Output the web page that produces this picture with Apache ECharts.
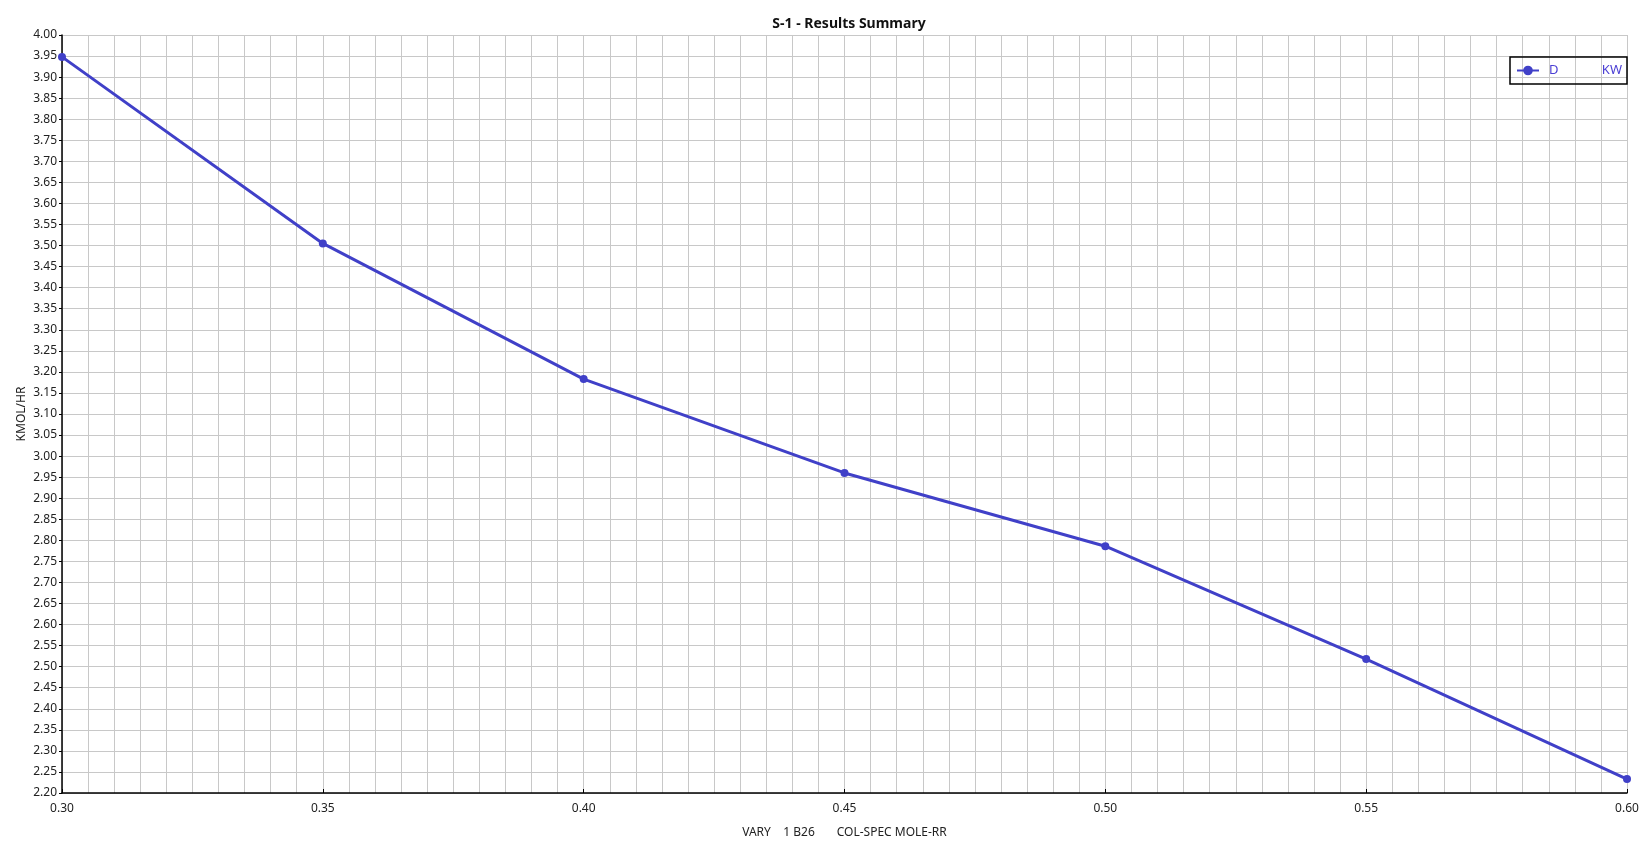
<!DOCTYPE html>
<html>
<head>
<meta charset="utf-8">
<title>S-1 - Results Summary</title>
<script src="https://cdn.jsdelivr.net/npm/echarts@6/dist/echarts.min.js"></script>
<style>
  html, body { margin: 0; padding: 0; background: #fff; }
  #chart { width: 1649px; height: 852px; }
</style>
</head>
<body>
<div id="chart"></div>
<script>
// data
const rrValues = [0.30, 0.35, 0.40, 0.45, 0.50, 0.55, 0.60];
const dValues = [3.948, 3.505, 3.183, 2.960, 2.786, 2.518, 2.233];
const seriesName = 'D';
const seriesUnit = 'KW';

const lineColor = '#4040c8';
const fontFamily = '"Noto Sans", "Open Sans", sans-serif';

const chart = echarts.init(document.getElementById('chart'));
const option = {
  animation: false,
  backgroundColor: '#fff',
  textStyle: { fontFamily: fontFamily },
  title: {
    text: 'S-1 - Results Summary',
    left: 844,
    textAlign: 'center',
    top: 12,
    textStyle: { fontSize: 14, fontWeight: 'bold', color: '#111', fontFamily: fontFamily }
  },
  legend: {
    right: 22,
    top: 57,
    orient: 'vertical',
    borderColor: '#000',
    borderWidth: 1.5,
    padding: [7, 5, 7, 6],
    itemWidth: 22,
    itemHeight: 12,
    data: [seriesName],
    formatter: function (name) {
      return '{a|' + name + '}{b|' + seriesUnit + '}';
    },
    textStyle: {
      color: '#4b3fd4',
      fontSize: 13,
      rich: {
        a: { width: 52, padding: [0, 0, 0, 5], color: '#4b3fd4', fontSize: 13 },
        b: { width: 21, align: 'right', color: '#4b3fd4', fontSize: 13 }
      }
    }
  },
  grid: { left: 62, right: 22, top: 35, bottom: 59, containLabel: false },
  xAxis: {
    type: 'value',
    min: 0.30,
    max: 0.60,
    interval: 0.05,
    name: 'VARY    1 B26       COL-SPEC MOLE-RR',
    nameLocation: 'middle',
    nameGap: 34,
    nameTextStyle: { color: '#222', fontSize: 12 },
    axisLine: { show: true, lineStyle: { color: '#000', width: 1.5 } },
    axisTick: { show: true, inside: true, length: 4, lineStyle: { color: '#000' } },
    axisLabel: {
      color: '#222', fontSize: 12, margin: 10,
      formatter: v => v.toFixed(2)
    },
    splitLine: { show: true, lineStyle: { color: '#c8c8c8', width: 1 } },
    minorTick: { show: false, splitNumber: 10 },
    minorSplitLine: { show: true, lineStyle: { color: '#c8c8c8', width: 1 } }
  },
  yAxis: {
    type: 'value',
    min: 2.20,
    max: 4.00,
    interval: 0.05,
    name: 'KMOL/HR',
    nameLocation: 'middle',
    nameGap: 34,
    nameMoveOverlap: false,
    nameTextStyle: { color: '#222', fontSize: 12, padding: [0, 0, 0, 0] },
    axisLine: { show: true, lineStyle: { color: '#000', width: 1.5 } },
    axisTick: { show: true, inside: false, length: 3, lineStyle: { color: '#000' } },
    axisLabel: {
      color: '#222', fontSize: 12, margin: 5,
      formatter: v => v.toFixed(2)
    },
    splitLine: { show: true, lineStyle: { color: '#c8c8c8', width: 1 } }
  },
  series: [{
    name: seriesName,
    type: 'line',
    data: rrValues.map((x, i) => [x, dValues[i]]),
    symbol: 'circle',
    symbolSize: 8,
    lineStyle: { color: lineColor, width: 3 },
    itemStyle: { color: lineColor },
    clip: false
  }]
};
chart.setOption(option);
</script>
</body>
</html>
